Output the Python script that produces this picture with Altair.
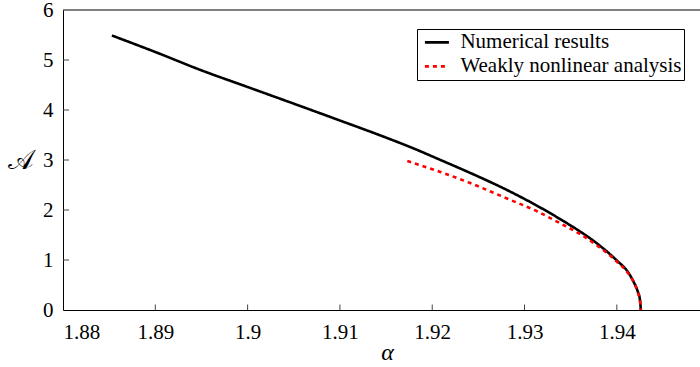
import altair as alt
import pandas as pd

# ---- data ----
alpha_num = [1.8853, 1.8900, 1.8949, 1.9000, 1.9057, 1.9100, 1.9144, 1.9180, 1.9209,
             1.9245, 1.9281, 1.9317, 1.9342, 1.9361, 1.9380, 1.9400, 1.9412, 1.9418,
             1.9423, 1.9425, 1.9426]
amp_num = [5.49, 5.16, 4.80, 4.46, 4.08, 3.79, 3.49, 3.23, 3.00,
           2.71, 2.40, 2.05, 1.78, 1.56, 1.31, 0.99, 0.76, 0.57,
           0.35, 0.21, 0.00]

alpha_wnl = [1.9173, 1.9209, 1.9245, 1.9281, 1.9314, 1.9339, 1.9361, 1.9380, 1.9400,
             1.9412, 1.9418, 1.9423, 1.9425, 1.9426]
amp_wnl = [2.98, 2.76, 2.51, 2.23, 1.97, 1.73, 1.51, 1.27, 0.97,
           0.74, 0.57, 0.34, 0.20, 0.00]

series = ["Numerical results", "Weakly nonlinear analysis"]
x_ticks = [1.88, 1.89, 1.90, 1.91, 1.92, 1.93, 1.94]
x_labels = ["1.88", "1.89", "1.9", "1.91", "1.92", "1.93", "1.94"]
y_ticks = [0, 1, 2, 3, 4, 5, 6]

x_min, x_max = 1.88, 1.94901
y_min, y_max = 0, 6

FONT = "Liberation Serif"

df = pd.concat([
    pd.DataFrame({"alpha": alpha_num, "amp": amp_num, "series": series[0]}),
    pd.DataFrame({"alpha": alpha_wnl, "amp": amp_wnl, "series": series[1]}),
])

label_expr = "{" + ",".join(f"'{v:.2f}':'{l}'" for v, l in zip(x_ticks, x_labels)) + "}[format(datum.value,'.2f')]"

xscale = alt.Scale(domain=[x_min, x_max], nice=False, zero=False)
yscale = alt.Scale(domain=[y_min, y_max], nice=False, zero=True)

lines = alt.Chart(df).mark_line(strokeWidth=2.6, clip=True, interpolate="monotone").encode(
    x=alt.X("alpha:Q", scale=xscale,
            axis=alt.Axis(values=x_ticks, labelExpr=label_expr, ticks=False, grid=False,
                          labelPadding=11, labelFontSize=21, labelFont=FONT, labelColor="black",
                          domainColor="black", domainWidth=1,
                          title="α", titleFont=FONT, titleFontSize=24, titleFontStyle="italic",
                          titleFontWeight="normal", titleColor="black",
                          titleX=324, titleY=49, titleBaseline="alphabetic", titleAlign="center")),
    y=alt.Y("amp:Q", scale=yscale,
            axis=alt.Axis(values=y_ticks, ticks=False, grid=False, format="d",
                          labelPadding=10, labelFontSize=21, labelFont=FONT, labelColor="black",
                          domainColor="black", domainWidth=1,
                          title="𝒜", titleFontSize=27, titleFontWeight="normal",
                          titleColor="black", titleAngle=0, titleX=-43, titleY=150,
                          titleAlign="center", titleBaseline="middle")),
    color=alt.Color("series:N", scale=alt.Scale(domain=series, range=["black", "red"]),
                    legend=alt.Legend(title=None, labelFont=FONT)),
    strokeDash=alt.StrokeDash("series:N", scale=alt.Scale(domain=series, range=[[1, 0], [4, 4]]),
                              legend=alt.Legend(title=None, labelFont=FONT)),
    order="alpha:Q",
)

tick_df = pd.DataFrame({"t": x_ticks[1:]})
xticks = alt.Chart(tick_df).mark_rule(color="#444", strokeWidth=1).encode(
    x=alt.X("t:Q", scale=xscale),
    y=alt.datum(0),
    y2=alt.datum(0.11),
)

ytick_df = pd.DataFrame({"t": y_ticks[1:-1]})
yticks = alt.Chart(ytick_df).mark_rule(color="#444", strokeWidth=1).encode(
    y=alt.Y("t:Q", scale=yscale),
    x=alt.datum(x_min),
    x2=alt.datum(x_min + 0.00065),
)

top = alt.Chart(pd.DataFrame({"v": [y_max]})).mark_rule(color="black", strokeWidth=1).encode(
    y=alt.Y("v:Q", scale=yscale),
    x=alt.datum(x_min),
    x2=alt.datum(x_max),
)

chart = alt.layer(xticks, yticks, top, lines).properties(
    width=637, height=300,
    autosize=alt.AutoSizeParams(type="none"),
    padding={"left": 63, "top": 10, "right": 0, "bottom": 57},
).configure(font=FONT).configure_view(stroke=None).configure_legend(
    orient="none", legendX=354, legendY=19,
    strokeColor="black", fillColor="white", padding=2.4, cornerRadius=0,
    symbolType="stroke", symbolSize=576, symbolStrokeWidth=2.6, symbolOffset=4,
    clipHeight=22, rowPadding=2,
    labelFont=FONT, labelFontSize=21, labelColor="black", labelOffset=10,
    labelLimit=400,
).configure_axis(labelFont=FONT)

chart.save("out.html", embed_options={"renderer": "svg", "actions": False})
